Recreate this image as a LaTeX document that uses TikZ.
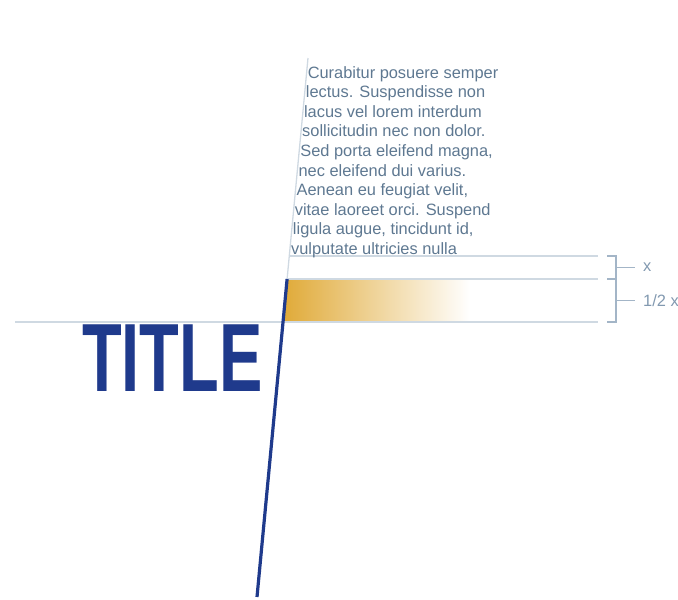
\documentclass[tikz,border=0pt]{standalone}
\usepackage{fontspec}
\setmainfont{Liberation Sans}
\usepackage{graphicx}
\usetikzlibrary{positioning}
\definecolor{titleblue}{HTML}{1F3A8C}
\definecolor{accentgold}{HTML}{E0AA38}
\definecolor{guidegray}{HTML}{CFD9E2}
\definecolor{bracketgray}{HTML}{A3B5C7}
\definecolor{labelslate}{HTML}{8299B0}
\definecolor{bodyslate}{HTML}{5E7891}

\begin{document}
\begin{tikzpicture}[x=1pt,y=-1pt,
 guide/.style={draw=guidegray,line width=1.3pt},
 brace/.style={draw=bracketgray,line width=1.3pt},
 axis/.style={draw=titleblue,line width=3.2pt},
 body/.style={font=\fontsize{16.4}{19.5}\selectfont,text=bodyslate,inner sep=0pt,anchor=base west},
 lbl/.style={font=\fontsize{16.4}{19.5}\selectfont,text=labelslate,inner sep=0pt,anchor=west},
 heading/.style={font=\bfseries\fontsize{97}{97}\selectfont,text=titleblue,inner sep=0pt,anchor=base west}]
\useasboundingbox (0,0) rectangle (678,600);
\coordinate (top) at (308,58);
\coordinate (foot) at (257,597);
\coordinate (xtop) at (289.3,256);
\coordinate (band) at (287.1,279);
\coordinate (base) at (283.0,322);
\coordinate (xend) at (598,256);
\coordinate (bandend) at (598,279);
\coordinate (baseend) at (598,322);
\coordinate (rule) at (15,322);
\coordinate (fade) at (470,279);
\coordinate (fadebase) at (470,322);
\shade[left color=accentgold,right color=white] (band) -- (fade) -- (fadebase) -- (base) -- cycle;
\draw[guide] (top) -- (band);
\draw[guide] (xtop) -- (xend);
\draw[guide] (band) -- (bandend);
\draw[guide] (rule) -- (baseend);
\foreach \txt [count=\i] in {{Curabitur posuere semper},{lectus. Suspendisse non},{lacus vel lorem interdum},{sollicitudin nec non dolor.},{Sed porta eleifend magna,},{nec eleifend dui varius.},{Aenean eu feugiat velit,},{vitae laoreet orci. Suspend},{ligula augue, tincidunt id,},{vulputate ultricies nulla}}{
 \pgfmathsetmacro{\yy}{78.3+19.55*(\i-1)}
 \pgfmathsetmacro{\xx}{308-51/539*(\yy-58)+1.5}
 \node[body] (line\i) at (\xx,\yy) {\txt};
}
\node[heading] (title) at (82,391) {\scalebox{0.67}[1]{TITLE}};
\draw[axis] (band) -- (foot);
\coordinate (b1a) at (607,256);
\coordinate (b1b) at (616,256);
\coordinate (b1c) at (616,279);
\coordinate (b1d) at (607,279);
\coordinate (b2b) at (616,322);
\coordinate (b2c) at (607,322);
\coordinate (t1) at (616,267.5);
\coordinate (t2) at (616,300.5);
\coordinate (t1end) at (635,267.5);
\coordinate (t2end) at (635,300.5);
\draw[brace] (b1a) -- (b1b) -- (b1c) -- (b1d);
\draw[brace] (b1c) -- (b2b) -- (b2c);
\draw[brace] (t1) -- (t1end);
\draw[brace] (t2) -- (t2end);
\node[lbl,right=8pt of t1end] (xlbl) {x};
\node[lbl,right=8pt of t2end] (halflbl) {1/2 x};
\end{tikzpicture}
\end{document}
